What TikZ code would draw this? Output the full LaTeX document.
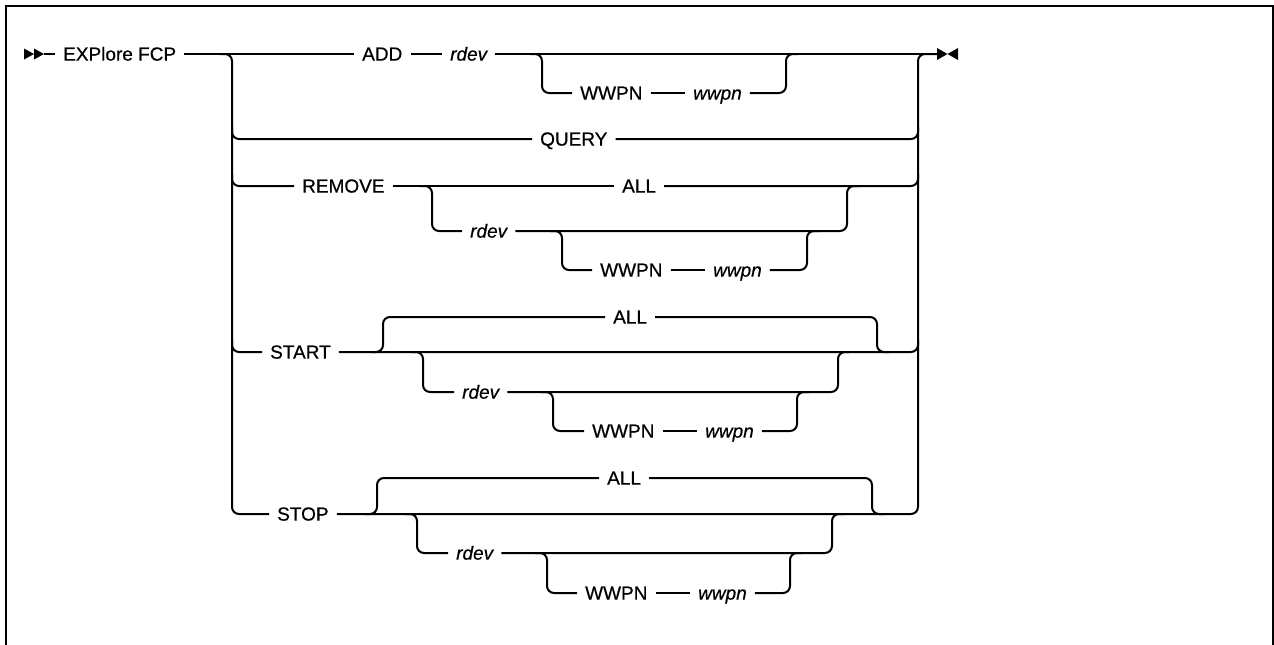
\documentclass[tikz,border=0pt]{standalone}
\usepackage{fontspec}
\setmainfont{Liberation Sans}[FakeBold=0.6]
\usepackage{tikz}
\usetikzlibrary{calc}

\begin{document}
\begin{tikzpicture}[
    x=1pt, y=-1pt,
    kw/.style={anchor=west, inner xsep=8pt, inner ysep=0pt, text height=13.2pt, text depth=0pt, font=\fontsize{19}{22}\selectfont},
    var/.style={kw, font=\fontsize{19}{22}\selectfont\itshape},
    rail/.style={line width=2pt, rounded corners=7pt},
    boxline/.style={line width=2.4pt}
]
    \useasboundingbox (0,0) rectangle (1274,645);
    \draw[boxline] (6,645) -- (6,6.2) -- (1272.8,6.2) -- (1272.8,645);

    \coordinate (go) at (44,54);
    \coordinate (lt) at (232,54);
    \coordinate (rt) at (918,54);
    \coordinate (fin) at (937,54);

    \node[kw] (cmd) at (55,54) {EXPlore FCP};
    \node[kw] (add) at (354,54) {ADD};
    \node[var] (addr) at (442,54) {rdev};
    \node[kw] (addw) at (572,93) {WWPN};
    \node[var] (addv) at (685,93) {wwpn};
    \node[kw] (query) at (532,139) {QUERY};
    \node[kw] (remove) at (294,186) {REMOVE};
    \node[kw] (remall) at (614,186) {ALL};
    \node[var] (remr) at (462,231) {rdev};
    \node[kw] (remw) at (592,270) {WWPN};
    \node[var] (remv) at (705,270) {wwpn};
    \node[kw] (start) at (262,352) {START};
    \node[kw] (staall) at (605,317) {ALL};
    \node[var] (star) at (454,392) {rdev};
    \node[kw] (staw) at (584,431) {WWPN};
    \node[var] (stav) at (697,431) {wwpn};
    \node[kw] (stop) at (269,514) {STOP};
    \node[kw] (stoall) at (599,478) {ALL};
    \node[var] (stor) at (448,553) {rdev};
    \node[kw] (stow) at (577,593) {WWPN};
    \node[var] (stov) at (690,593) {wwpn};

    \coordinate (aw1) at (542,54);  \coordinate (aw2) at (786,54);
    \coordinate (rr1) at (432,186); \coordinate (rr2) at (847,186);
    \coordinate (rw1) at (562,231); \coordinate (rw2) at (807,231);
    \coordinate (sa1) at (383,317); \coordinate (sa2) at (877,317);
    \coordinate (sr1) at (423,352); \coordinate (sr2) at (838,352);
    \coordinate (sw1) at (553,392); \coordinate (sw2) at (797,392);
    \coordinate (pa1) at (377,478); \coordinate (pa2) at (872,478);
    \coordinate (pr1) at (417,514); \coordinate (pr2) at (832,514);
    \coordinate (pw1) at (547,553); \coordinate (pw2) at (790,553);

    \fill (go) ++(-20,-5.5) -- ++(10,5.5) -- ++(-10,5.5) -- cycle;
    \fill (go) ++(-10,-5.5) -- ++(10,5.5) -- ++(-10,5.5) -- cycle;
    \fill (fin) ++(0,-6) -- ++(10.5,6) -- ++(-10.5,6) -- cycle;
    \fill (fin) ++(21,-6) -- ++(-10.5,6) -- ++(10.5,6) -- cycle;

    \draw[rail] (go) -- (cmd.west);
    \draw[rail] (cmd.east) -- (add.west);
    \draw[rail] (add.east) -- (addr.west);
    \draw[rail] (addr.east) -- (fin);

    \draw[rail] ([xshift=-12pt]lt) -- (lt) -- (lt |- stop.west) -- (stop.west);
    \draw[rail] ([yshift=12pt]lt |- query.west) -- (lt |- query.west) -- (query.west);
    \draw[rail] ([yshift=12pt]lt |- remove.west) -- (lt |- remove.west) -- (remove.west);
    \draw[rail] ([yshift=12pt]lt |- start.west) -- (lt |- start.west) -- (start.west);

    \draw[rail] (stop.east) -- (rt |- stop.east) -- (rt) -- (fin);
    \draw[rail] (query.east) -- (rt |- query.east) -- ([yshift=12pt]rt |- query.east);
    \draw[rail] (remove.east) -- (remall.west);
    \draw[rail] (remall.east) -- (rt |- remall.east) -- ([yshift=12pt]rt |- remall.east);
    \draw[rail] (start.east) -- (rt |- start.east) -- ([yshift=12pt]rt |- start.east);

    \draw[rail] ([xshift=-12pt]aw1) -- (aw1) -- (aw1 |- addw.west) -- (addw.west);
    \draw[rail] (addw.east) -- (addv.west);
    \draw[rail] (addv.east) -- (aw2 |- addv.east) -- (aw2) -- ([xshift=12pt]aw2);

    \draw[rail] ([xshift=-12pt]rr1) -- (rr1) -- (rr1 |- remr.west) -- (remr.west);
    \draw[rail] (remr.east) -- (rr2 |- remr.east) -- (rr2) -- ([xshift=12pt]rr2);
    \draw[rail] ([xshift=-12pt]rw1) -- (rw1) -- (rw1 |- remw.west) -- (remw.west);
    \draw[rail] (remw.east) -- (remv.west);
    \draw[rail] (remv.east) -- (rw2 |- remv.east) -- (rw2) -- ([xshift=12pt]rw2);

    \draw[rail] ([xshift=-12pt]sa1 |- start.east) -- (sa1 |- start.east) -- (sa1) -- (staall.west);
    \draw[rail] (staall.east) -- (sa2) -- (sa2 |- start.east) -- ([xshift=12pt]sa2 |- start.east);
    \draw[rail] ([xshift=-12pt]sr1) -- (sr1) -- (sr1 |- star.west) -- (star.west);
    \draw[rail] (star.east) -- (sr2 |- star.east) -- (sr2) -- ([xshift=12pt]sr2);
    \draw[rail] ([xshift=-12pt]sw1) -- (sw1) -- (sw1 |- staw.west) -- (staw.west);
    \draw[rail] (staw.east) -- (stav.west);
    \draw[rail] (stav.east) -- (sw2 |- stav.east) -- (sw2) -- ([xshift=12pt]sw2);

    \draw[rail] ([xshift=-12pt]pa1 |- stop.east) -- (pa1 |- stop.east) -- (pa1) -- (stoall.west);
    \draw[rail] (stoall.east) -- (pa2) -- (pa2 |- stop.east) -- ([xshift=12pt]pa2 |- stop.east);
    \draw[rail] ([xshift=-12pt]pr1) -- (pr1) -- (pr1 |- stor.west) -- (stor.west);
    \draw[rail] (stor.east) -- (pr2 |- stor.east) -- (pr2) -- ([xshift=12pt]pr2);
    \draw[rail] ([xshift=-12pt]pw1) -- (pw1) -- (pw1 |- stow.west) -- (stow.west);
    \draw[rail] (stow.east) -- (stov.west);
    \draw[rail] (stov.east) -- (pw2 |- stov.east) -- (pw2) -- ([xshift=12pt]pw2);
\end{tikzpicture}
\end{document}
